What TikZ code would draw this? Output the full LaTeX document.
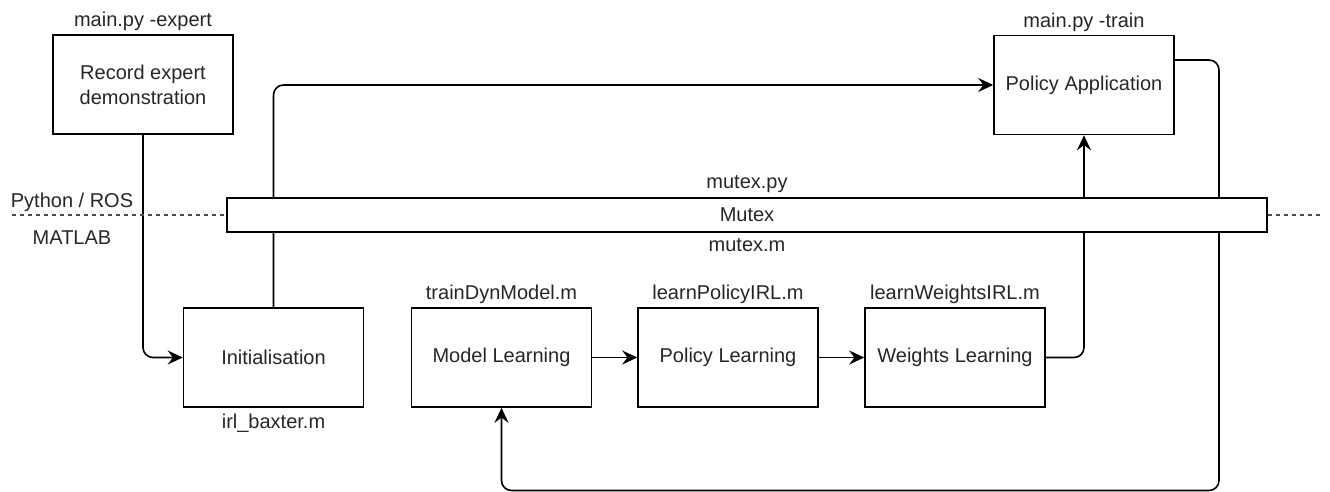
\documentclass[tikz,border=0pt]{standalone}
\usepackage{fontspec}
\setmainfont{Liberation Sans}
\usetikzlibrary{positioning,arrows.meta}

\begin{document}
\begin{tikzpicture}
		[x=0.5pt, y=-0.5pt,
		every node/.style={font=\fontsize{10}{12.5}\selectfont, text=black!85},
		block/.style={draw, line width=0.8pt, minimum width=90pt, minimum height=49.5pt, align=center, inner sep=2pt},
		file/.style={inner sep=0pt},
		flow/.style={line width=0.8pt, rounded corners=5pt, -{Stealth[length=7.5pt, width=7pt, inset=2.6pt]}},
		divider/.style={line width=0.6pt, black!70, dash pattern=on 2pt off 2pt}]
		\useasboundingbox (0,0) rectangle (1330,492);

		\node[block] (R) at (143,84.5) {Record expert\\demonstration};
		\node[above=1.5pt of R, file] {main.py -expert};
		\node[block] (A) at (1084,85) {Policy Application};
		\node[above=1.5pt of A, file] {main.py -train};

		\node[block] (I) at (273.5,357.5) {Initialisation};
		\node[below=3pt of I, file] {irl\_baxter.m};
		\node[block] (M) at (501.5,357.5) {Model Learning};
		\node[above=1.5pt of M, file] {trainDynModel.m};
		\node[block] (P) at (728,357.5) {Policy Learning};
		\node[above=1.5pt of P, file] {learnPolicyIRL.m};
		\node[block] (W) at (955,357.5) {Weights Learning};
		\node[above=1.5pt of W, file] {learnWeightsIRL.m};

		\coordinate (loop) at (1219,490.5);
		\draw[flow] (R.south) |- (I.west);
		\draw[flow] (I.north) |- (A.west);
		\draw[flow] (M) -- (P);
		\draw[flow] (P) -- (W);
		\draw[flow] (W.east) -| (A.south);
		\draw[flow] ([yshift=12.5pt]A.east) -| (loop) -| (M.south);

		\node[draw, fill=white, line width=0.8pt, minimum width=520pt, minimum height=17pt, inner sep=0pt] (X) at (747,215) {Mutex};
		\node[above=2pt of X, file] {mutex.py};
		\node[below=2.8pt of X, file] {mutex.m};
		\coordinate (dashL) at (12,215);
		\coordinate (dashR) at (1322,215);
		\draw[divider] (dashL) -- (X.west);
		\draw[divider] (X.east) -- (dashR);
		\node (py) at (72,202) {Python / ROS};
		\node (ml) at (72,238) {MATLAB};
	\end{tikzpicture}
\end{document}
